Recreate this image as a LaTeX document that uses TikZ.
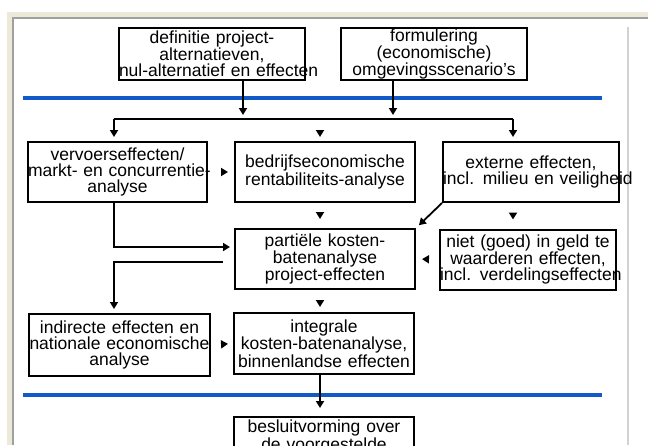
\documentclass[tikz,border=0pt]{standalone}
\usepackage{fontspec}
\setmainfont{Liberation Sans}
\usetikzlibrary{arrows.meta}
\definecolor{balkblauw}{RGB}{18,90,200}
\definecolor{kaderbeige}{RGB}{236,233,216}
\definecolor{kadergrijs}{RGB}{160,160,160}
\definecolor{randgrijs}{RGB}{210,210,210}
\begin{document}
\begin{tikzpicture}[
        x=1pt, y=-1pt,
        font=\fontsize{17.5}{16}\selectfont,
        box/.style={
            rectangle, draw=black, line width=2pt,
            text width=#1, minimum width=#1, minimum height=60pt,
            inner sep=0pt, text centered, align=center
        },
        box/.default=180pt,
        arrow/.style={-{Triangle[length=7pt,width=8pt]}, line width=1.8pt, shorten >=4pt},
        stub/.style={-{Triangle[length=7pt,width=8pt]}, line width=1.8pt},
        balk/.style={balkblauw, line width=4pt}
    ]
        \useasboundingbox (0,0) rectangle (648,445);

        % Kader
        \fill[kaderbeige] (7,12) rectangle (648,445);
        \fill[white] (12,17) rectangle (648,445);
        \draw[kadergrijs, line width=1.5pt] (13,445) -- (13,18) -- (648,18);
        \draw[randgrijs, line width=2pt] (628,27) -- (628,445);

        % Blauwe balken
        \draw[balk] (23,98) -- (602,98);
        \draw[balk] (23,395) -- (602,395);

        % Laag 1: uitgangspunten
        \node[box=186pt, minimum height=52pt] (definitie) at (212,54) {
            \mbox{definitie project-}\\
            alternatieven,\\
            \mbox{nul-alternatief en effecten}
        };
        \node[box=186pt, minimum height=52pt] (scenario) at (434,54) {
            formulering\\
            (economische)\\
            \mbox{omgevingsscenario's}
        };

        % Laag 2: deelanalyses
        \node[box=179pt] (vervoer) at (117.5,172) {
            \mbox{vervoerseffecten/}\\
            \mbox{markt- en concurrentie-}\\
            analyse
        };
        \node[box] (bedrijf) at (325,172) {
            \mbox{bedrijfseconomische}\\
            \mbox{rentabiliteits-analyse}
        };
        \node[box=176pt] (extern) at (531,172) {
            externe effecten,\\
            \mbox{incl. milieu en veiligheid}
        };

        % Laag 3: kosten-batenanalyse
        \node[box] (partieel) at (325,259) {
            partiële kosten-\\
            batenanalyse\\
            project-effecten
        };
        \node[box=176pt] (nietgeld) at (528,259.5) {
            \mbox{niet (goed) in geld te}\\
            \mbox{waarderen effecten,}\\
            \mbox{incl. verdelingseffecten}
        };
        \node[box=181pt, minimum height=62pt] (indirect) at (119.5,345) {
            \mbox{indirecte effecten en}\\
            \mbox{nationale economische}\\
            analyse
        };
        \node[box, minimum height=61pt] (integraal) at (324,343.5) {
            integrale\\
            \mbox{kosten-batenanalyse,}\\
            \mbox{binnenlandse effecten}
        };

        % Laag 4: besluit
        \node[box, minimum height=40pt, anchor=north] (besluit) at (324,416) {
            \mbox{besluitvorming over}\\
            de voorgestelde
        };

        % Verdeellijn
        \coordinate (inA) at (243,119);
        \coordinate (inB) at (393,119);
        \coordinate (busL) at (114,119);
        \coordinate (busM) at (320,119);
        \coordinate (busR) at (513,119);

        \draw[arrow] (definitie.south -| inA) -- (inA);
        \draw[arrow] (scenario.south -| inB) -- (inB);
        \draw[line width=1.8pt] (busL) -- (busR);
        \draw[arrow] (busL) -- (busL |- vervoer.north);
        \draw[arrow] (busR) -- (busR |- extern.north);
        \draw[stub, shorten <=12pt, shorten >=4pt] (busM) -- (busM |- bedrijf.north);

        % Losse pijlpunten
        \draw[stub, shorten <=15pt, shorten >=6pt] (vervoer.east) -- (bedrijf.west);
        \draw[stub, shorten <=11pt, shorten >=9pt] (busM |- bedrijf.south) -- (busM |- partieel.north);
        \draw[stub, shorten <=11pt, shorten >=9pt] (busR |- extern.south) -- (busR |- nietgeld.north);
        \draw[stub, shorten <=12pt, shorten >=6pt] (nietgeld.west) -- (partieel.east);
        \draw[stub, shorten <=12pt, shorten >=5pt] (busM |- partieel.south) -- (busM |- integraal.north);
        \draw[stub, shorten <=12pt, shorten >=5pt] (indirect.east) -- (integraal.west);

        % Doorlopende pijlen
        \draw[arrow] (busL |- vervoer.south) |- ([yshift=12pt]partieel.west);
        \draw[arrow, shorten <=11pt] ([yshift=-3pt]partieel.west) -| (busL |- indirect.north);
        \draw[arrow] (extern.south west) -- (partieel.north east);
        \draw[arrow, shorten >=8pt] (busM |- integraal.south) -- (busM |- besluit.north);

    \end{tikzpicture}
\end{document}
